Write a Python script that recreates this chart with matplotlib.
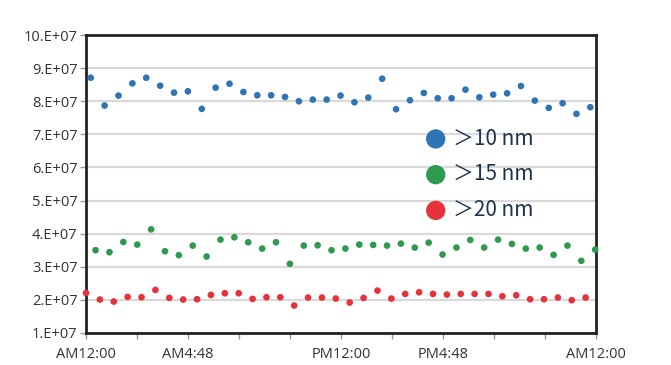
import numpy as np
import matplotlib.pyplot as plt

# sampling: one reading of each size every ~39 min, sizes staggered in time
step_min = 39.2
offsets_min = {'>10': 13.3, '>15': 27.0, '>20': 0.0}

# counts, in units of 1e7
gt10 = [8.71, 7.87, 8.17, 8.54, 8.71, 8.47, 8.26, 8.30, 7.77, 8.41,
        8.53, 8.28, 8.18, 8.18, 8.13, 8.00, 8.05, 8.05, 8.17, 7.97,
        8.11, 8.68, 7.76, 8.03, 8.25, 8.09, 8.09, 8.35, 8.12, 8.20,
        8.24, 8.46, 8.02, 7.80, 7.94, 7.62, 7.82]
gt15 = [3.50, 3.44, 3.75, 3.67, 4.13, 3.47, 3.35, 3.64, 3.31, 3.82,
        3.89, 3.74, 3.55, 3.74, 3.09, 3.64, 3.65, 3.50, 3.55, 3.67,
        3.66, 3.64, 3.70, 3.58, 3.73, 3.37, 3.58, 3.81, 3.58, 3.82,
        3.69, 3.55, 3.58, 3.36, 3.64, 3.18, 3.52]
gt20 = [2.21, 2.01, 1.95, 2.09, 2.08, 2.30, 2.06, 2.01, 2.02, 2.15,
        2.20, 2.20, 2.03, 2.08, 2.08, 1.83, 2.07, 2.07, 2.04, 1.92,
        2.06, 2.28, 2.04, 2.18, 2.23, 2.18, 2.16, 2.18, 2.18, 2.18,
        2.11, 2.14, 2.02, 2.02, 2.07, 1.99, 2.07]

series = [('＞10 nm', '>10', gt10, '#2f74b5'),
          ('＞15 nm', '>15', gt15, '#2e9a4f'),
          ('＞20 nm', '>20', gt20, '#e5323b')]

tick_hours = np.arange(0, 24.01, 2.4)
tick_labels = {0.0: 'AM12:00', 4.8: 'AM4:48', 12.0: 'PM12:00',
               16.8: 'PM4:48', 24.0: 'AM12:00'}
y_ticks = np.arange(1, 11)
y_labels = [f'{v}.E+07' for v in y_ticks]

plt.rcParams['font.family'] = ['Open Sans', 'DejaVu Sans']

fig = plt.figure(figsize=(6.71, 3.65), dpi=100)
ax = fig.add_axes([0.1282, 0.0877, 0.888 - 0.1282, 0.904 - 0.0877])

for label, key, vals, col in series:
    hours = (np.arange(len(vals)) * step_min + offsets_min[key]) / 60.0
    ax.scatter(hours, np.array(vals) * 1e7, s=23, color=col, label=label,
               zorder=3, edgecolors='none', clip_on=False)

ax.set_xlim(0, 24)
ax.set_ylim(1e7, 10e7)
ax.set_yticks(y_ticks * 1e7)
ax.set_yticklabels(y_labels)
ax.set_xticks(tick_hours)
ax.set_xticklabels([tick_labels.get(round(h, 1), '') for h in tick_hours])

ax.grid(axis='y', color='#d9d9d9', linewidth=1.6, zorder=0)
ax.set_axisbelow(True)
for sp in ax.spines.values():
    sp.set_linewidth(2.0)
    sp.set_color('#222222')
ax.tick_params(axis='both', length=4, width=1, color='#999999',
               labelsize=10.5, labelcolor='#333333', pad=2)
ax.tick_params(axis='x', pad=6)

leg = ax.legend(loc='upper left', bbox_to_anchor=(0.643, 0.725), frameon=False,
                markerscale=2.9, handletextpad=0.3, labelspacing=0.66,
                borderpad=0, handlelength=1.1,
                prop={'family': ['Noto Sans CJK JP', 'DejaVu Sans'], 'size': 15})
for t in leg.get_texts():
    t.set_color('#1d3353')

fig.savefig('out.png', dpi=100)
